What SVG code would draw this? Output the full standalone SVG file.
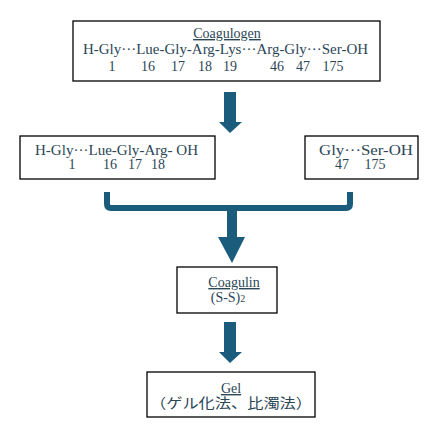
<svg xmlns="http://www.w3.org/2000/svg" width="431" height="445" viewBox="0 0 431 445">
<style>
.box{fill:#fff;stroke:#000;stroke-width:1.3}
text{font-family:"Liberation Serif","Noto Sans CJK JP",serif;font-size:14px;fill:#2b4656}
.m{text-anchor:middle}
.u{text-decoration:underline}
.arr{fill:#1b5b7b}
.br{fill:none;stroke:#1b5b7b;stroke-width:6;stroke-linejoin:round}
</style>
<rect width="431" height="445" fill="#fff"/>
<g id="coagulogen">
<rect class="box" x="73" y="21" width="307" height="60"/>
<text class="m u" x="227" y="38">Coagulogen</text>
<text x="83" y="54" textLength="285" lengthAdjust="spacingAndGlyphs">H-Gly···Lue-Gly-Arg-Lys···Arg-Gly···Ser-OH</text>
<text class="m" x="112" y="71">1</text>
<text class="m" x="148" y="71">16</text>
<text class="m" x="178" y="71">17</text>
<text class="m" x="205" y="71">18</text>
<text class="m" x="230" y="71">19</text>
<text class="m" x="277" y="71">46</text>
<text class="m" x="303" y="71">47</text>
<text class="m" x="333" y="71">175</text>
</g>
<g id="fragment1">
<rect class="box" x="20" y="136" width="195" height="43"/>
<text x="35" y="155" textLength="163" lengthAdjust="spacingAndGlyphs">H-Gly···Lue-Gly-Arg- OH</text>
<text class="m" x="72" y="169">1</text>
<text class="m" x="110" y="169">16</text>
<text class="m" x="135" y="169">17</text>
<text class="m" x="158" y="169">18</text>
</g>
<g id="fragment2">
<rect class="box" x="305" y="136" width="113" height="43"/>
<text x="319" y="155" textLength="94" lengthAdjust="spacingAndGlyphs">Gly···Ser-OH</text>
<text class="m" x="342" y="169">47</text>
<text class="m" x="375" y="169">175</text>
</g>
<g id="coagulin">
<rect class="box" x="177" y="267" width="100" height="46"/>
<text class="m u" x="234" y="287">Coagulin</text>
<text class="m" x="228" y="302">(S-S)<tspan font-size="10">2</tspan></text>
</g>
<g id="gel">
<rect class="box" x="147" y="372" width="168" height="45"/>
<text class="m u" x="231" y="393">Gel</text>
<text x="150" y="408" textLength="162" lengthAdjust="spacingAndGlyphs">（ゲル化法、比濁法）</text>
</g>
<g id="connectors">
<polygon class="arr" points="224,92 236,92 236,122 242,122 230,133 219,122 224,122"/>
<path class="br" d="M107,192 V204 Q107,208 111,208 H346 Q350,208 350,204 V192"/>
<polygon class="arr" points="227,210 237,210 237,237 245,237 232,263 218,237 227,237"/>
<polygon class="arr" points="224,322 236,322 236,352 242,352 230,363 219,352 224,352"/>
</g>
</svg>
